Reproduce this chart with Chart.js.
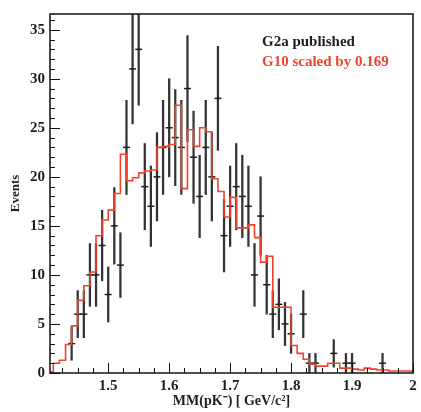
<!DOCTYPE html>
<html>
<head>
<meta charset="utf-8">
<script src="https://cdn.jsdelivr.net/npm/chart.js@4.4.1/dist/chart.umd.min.js"></script>
<style>
  html, body { margin: 0; padding: 0; background: #fff; }
  canvas { display: block; }
</style>
</head>
<body>
<canvas id="massChart" width="421" height="412"></canvas>
<script>
// G2a published points: missing mass, events, stat. error
const g2aMass = [1.44, 1.45, 1.46, 1.47, 1.48, 1.49, 1.50, 1.51, 1.52, 1.53,
                 1.54, 1.55, 1.56, 1.57, 1.58, 1.59, 1.60, 1.61, 1.62, 1.63,
                 1.64, 1.65, 1.66, 1.67, 1.68, 1.69, 1.70, 1.71, 1.72, 1.73,
                 1.74, 1.75, 1.76, 1.77, 1.78, 1.79, 1.80, 1.82, 1.83, 1.84,
                 1.87, 1.89, 1.90, 1.95];
const g2aEvents = [3, 6, 6, 10, 10, 13, 8, 15, 11, 23,
                   31, 33, 19, 17, 20, 23, 25, 24, 23, 29,
                   22, 18, 23, 20, 28, 14, 17, 19, 18, 17,
                   10, 16, 9, 6, 7, 5, 4, 6, 1, 1,
                   2, 1, 1, 1];
const g2aErrors = [1.7, 2.4, 2.4, 3.2, 3.2, 3.6, 2.8, 3.9, 3.3, 4.8,
                   5.6, 5.7, 4.4, 4.1, 4.5, 4.8, 5.0, 4.9, 4.8, 5.4,
                   4.7, 4.2, 4.8, 4.5, 5.3, 3.7, 4.1, 4.4, 4.2, 4.1,
                   3.2, 4.0, 3.0, 2.4, 2.6, 2.2, 2.0, 2.4, 1.0, 1.0,
                   1.4, 1.0, 1.0, 1.0];

// G10 histogram scaled by 0.169: low edge of each bin and its content
const g10BinLow = [1.40, 1.41, 1.42, 1.43, 1.44, 1.45, 1.46, 1.47, 1.48, 1.49,
                   1.50, 1.51, 1.52, 1.53, 1.54, 1.55, 1.56, 1.57, 1.58, 1.59,
                   1.60, 1.61, 1.62, 1.63, 1.64, 1.65, 1.66, 1.67, 1.68, 1.69,
                   1.70, 1.71, 1.72, 1.73, 1.74, 1.75, 1.76, 1.77, 1.78, 1.79,
                   1.80, 1.81, 1.82, 1.83, 1.84, 1.85, 1.86, 1.87, 1.88, 1.89,
                   1.90, 1.91, 1.92, 1.93, 1.94, 1.95, 1.96, 1.97, 1.98, 1.99];
const g10Scaled = [0.0, 0.1, 1.0, 1.3, 2.9, 4.8, 7.4, 8.9, 10.3, 14.0,
                   15.6, 16.6, 18.3, 22.3, 19.6, 19.9, 20.4, 20.6, 20.7, 23.0,
                   23.1, 23.3, 27.3, 18.8, 24.8, 23.1, 25.0, 24.6, 19.8, 18.5,
                   15.9, 17.9, 14.8, 14.8, 15.1, 13.8, 11.3, 11.9, 6.7, 6.7,
                   6.7, 2.8, 2.0, 1.4, 0.9, 0.7, 0.7, 1.0, 1.0, 0.5,
                   0.5, 0.4, 0.3, 0.5, 0.4, 0.3, 0.3, 0.2, 0.2, 0.2];
const g10BinWidth = 0.01;

const xTicks = [1.5, 1.6, 1.7, 1.8, 1.9, 2];
const yTicks = [0, 5, 10, 15, 20, 25, 30, 35];
const xMinorStep = 0.025;
const yMinorStep = 1;
const legendLines = ['G2a published', 'G10 scaled by 0.169'];

const serif = "'Liberation Serif', 'Times New Roman', serif";
const red = '#f0432b';
const ink = '#1e1e1e';
const barInk = '#333';

// step line: each bin's low edge, plus the high edge of the last bin
const g10Steps = g10BinLow.map((x, i) => ({x: x, y: g10Scaled[i]}));
g10Steps.push({x: g10BinLow[g10BinLow.length - 1] + g10BinWidth, y: g10Scaled[g10Scaled.length - 1]});

const errorBars = g2aMass.map((x, i) => ({x: x, y: [g2aEvents[i] - g2aErrors[i], g2aEvents[i] + g2aErrors[i]]}));
const points = g2aMass.map((x, i) => ({x: x, y: g2aEvents[i]}));

// ROOT-like frame: box, inward ticks, text legend
const rootFrame = {
  id: 'rootFrame',
  afterDraw(chart) {
    const {ctx, chartArea: a, scales: {x, y}} = chart;
    ctx.save();
    ctx.strokeStyle = '#111';
    ctx.lineWidth = 1;
    ctx.beginPath();
    for (let k = Math.ceil(x.min / xMinorStep - 1e-6); k * xMinorStep <= x.max + 1e-6; k++) {
      const v = k * xMinorStep;
      const len = xTicks.some(t => Math.abs(t - v) < 1e-6) ? 10 : 5;
      const px = Math.round(x.getPixelForValue(v)) + 0.5;
      ctx.moveTo(px, a.bottom);
      ctx.lineTo(px, a.bottom - len);
    }
    for (let k = Math.ceil(y.min / yMinorStep); k * yMinorStep <= y.max; k++) {
      const v = k * yMinorStep;
      const len = yTicks.includes(v) ? 10 : 5;
      const py = Math.round(y.getPixelForValue(v)) + 0.5;
      ctx.moveTo(a.left, py);
      ctx.lineTo(a.left + len, py);
    }
    ctx.stroke();
    ctx.lineWidth = 1.5;
    ctx.strokeRect(a.left, a.top, a.right - a.left, a.bottom - a.top);

    ctx.font = 'bold 15px ' + serif;
    ctx.textAlign = 'left';
    ctx.textBaseline = 'middle';
    ctx.fillStyle = ink;
    ctx.fillText(legendLines[0], 262, 42);
    ctx.fillStyle = red;
    ctx.fillText(legendLines[1], 262, 62);
    ctx.restore();
  }
};

new Chart(document.getElementById('massChart'), {
  type: 'scatter',
  data: {
    datasets: [
      {
        type: 'line',
        label: legendLines[1],
        data: g10Steps,
        stepped: 'after',
        borderColor: red,
        borderWidth: 1.6,
        pointRadius: 0,
        fill: false,
        order: 0
      },
      {
        type: 'bar',
        label: 'G2a errors',
        data: errorBars,
        backgroundColor: barInk,
        borderWidth: 0,
        barThickness: 1.6,
        grouped: false,
        order: 2
      },
      {
        type: 'scatter',
        label: legendLines[0],
        data: points,
        pointStyle: 'line',
        pointRadius: 3.5,
        borderColor: ink,
        borderWidth: 1.5,
        order: 1
      }
    ]
  },
  options: {
    responsive: false,
    animation: false,
    devicePixelRatio: 1,
    layout: { padding: { top: 11, right: 8, bottom: 0, left: 0 } },
    plugins: {
      legend: { display: false },
      tooltip: { enabled: false }
    },
    scales: {
      x: {
        type: 'linear',
        min: 1.4045,
        max: 2.0,
        offset: false,
        grid: { display: false, drawTicks: false },
        border: { display: false },
        afterBuildTicks: s => { s.ticks = xTicks.map(v => ({value: v})); },
        afterFit: s => { s.height = 39; s.paddingLeft = 0; s.paddingRight = 0; },
        ticks: {
          color: ink,
          padding: 4,
          autoSkip: false,
          maxRotation: 0,
          font: { family: serif, size: 15, weight: 'bold' },
          callback: v => String(v)
        },
        title: {
          display: true,
          text: 'MM(pK\u207B) [ GeV/c\u00B2]',
          color: ink,
          font: { family: serif, size: 14, weight: 'bold' },
          padding: { top: 0, bottom: 2 }
        }
      },
      y: {
        type: 'linear',
        min: 0,
        max: 36.6,
        grid: { display: false, drawTicks: false },
        border: { display: false },
        afterBuildTicks: s => { s.ticks = yTicks.map(v => ({value: v})); },
        afterFit: s => { s.width = 50; },
        ticks: {
          color: ink,
          padding: 5,
          autoSkip: false,
          font: { family: serif, size: 15, weight: 'bold' }
        },
        title: {
          display: true,
          text: 'Events',
          color: ink,
          font: { family: serif, size: 13, weight: 'bold' },
          padding: { top: 8, bottom: 0 }
        }
      }
    }
  },
  plugins: [rootFrame]
});
</script>
</body>
</html>
